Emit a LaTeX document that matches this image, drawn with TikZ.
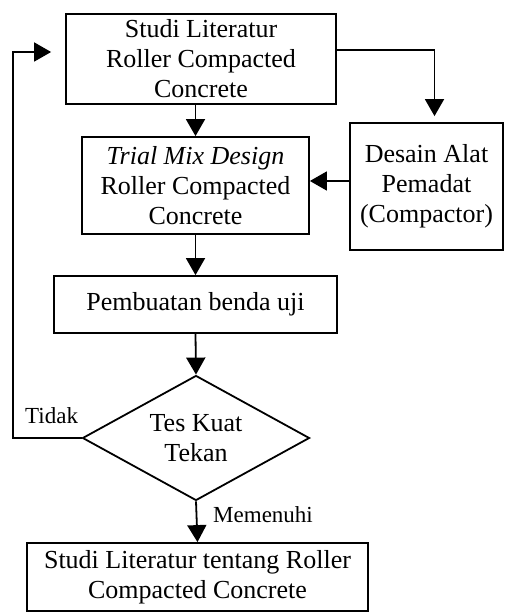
\documentclass[tikz,border=0pt]{standalone}
\usepackage{fontspec}
\setmainfont{Liberation Serif}
\usetikzlibrary{arrows.meta,positioning,shapes.geometric}
\tikzset{
  kotak/.style={rectangle, draw, line width=1.8pt, align=center, inner sep=0pt,
                font=\fontsize{26}{30}\selectfont},
  belah/.style={diamond, draw, line width=1.8pt, align=center, inner sep=0pt,
                shape aspect=1.8, font=\fontsize{26}{30}\selectfont},
  ket/.style={font=\fontsize{23}{27}\selectfont, inner sep=0pt},
  arr/.style={-{Triangle[length=17pt,width=19pt]}, line width=1.8pt},
}
\begin{document}
\begin{tikzpicture}[x=1pt,y=-1pt]
    \useasboundingbox (0,0) rectangle (504,612);
    \node[kotak, minimum width=270pt, minimum height=90pt] (lit) at (201,59)
      {Studi Literatur\\Roller Compacted\\Concrete};
    \node[kotak, minimum width=227pt, minimum height=97pt] (trial) at (195.5,185.5)
      {\textit{Trial Mix Design}\\Roller Compacted\\Concrete};
    \node[kotak, minimum width=153pt, minimum height=127pt] (desain) at (426.5,186.5)
      {Desain Alat\\Pemadat\\(Compactor)};
    \node[kotak, minimum width=283pt, minimum height=57pt] (buat) at (195.5,304.5)
      {Pembuatan benda uji};
    \node[belah, minimum width=227pt, minimum height=125pt] (tes) at (196,438)
      {Tes Kuat\\Tekan};
    \node[kotak, minimum width=341pt, minimum height=68pt] (hasil) at (197.5,577)
      {Studi Literatur tentang Roller\\Compacted Concrete};
    \node[ket, anchor=south west] (tidak) at (25,424) {Tidak};
    \node[ket, anchor=west] (ok) at (213,515) {Memenuhi};
    \coordinate (kiri) at (13,438);
    % alur utama
    \draw[arr] (trial.north |- lit.south) -- (trial.north);
    \draw[arr] ([yshift=9pt]lit.east) -| ([xshift=8pt,yshift=6pt]desain.north);
    \draw[arr] (desain.west |- 0,181) -- (trial.east |- 0,181);
    \draw[arr] (trial) -- (buat);
    \draw[arr] (buat.south) -- (tes.north);
    \draw[arr] (tes.south) -- (hasil.north);
    \draw[arr] (tes.west) -- (kiri) |- ([xshift=-14pt]lit.west |- 0,52);
\end{tikzpicture}
\end{document}
